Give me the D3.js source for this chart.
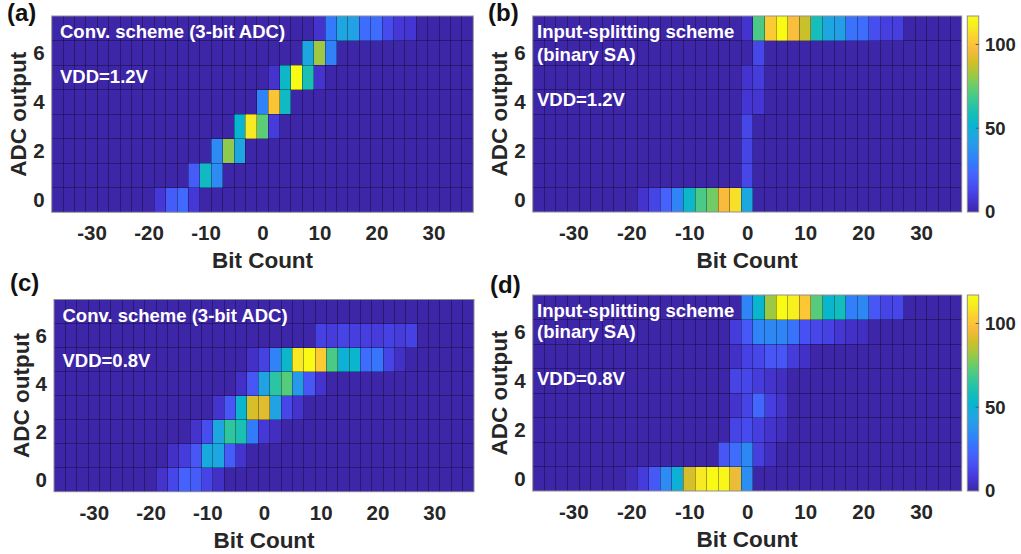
<!DOCTYPE html>
<html>
<head>
<meta charset="utf-8">
<script src="https://cdn.jsdelivr.net/npm/d3@7"></script>
<style>
  html, body { margin: 0; padding: 0; background: #ffffff; }
  svg { display: block; font-family: "Liberation Sans", Arial, Helvetica, sans-serif; font-weight: bold; }
</style>
</head>
<body>
<svg id="fig" width="1021" height="554"></svg>
<script>
// ---- bins and ticks ----
const bitCountBins = [-36, -34, -32, -30, -28, -26, -24, -22, -20, -18, -16, -14, -12, -10, -8, -6, -4, -2,
                      0, 2, 4, 6, 8, 10, 12, 14, 16, 18, 20, 22, 24, 26, 28, 30, 32, 34, 36];
const adcLevels = [0, 1, 2, 3, 4, 5, 6, 7];
const xTickValues = [-30, -20, -10, 0, 10, 20, 30];
const yTickValues = [0, 2, 4, 6];
const colorbarTicks = [0, 50, 100];

// ---- histogram counts: [bit count, ADC output, count]; bins not listed are empty ----
const countsConv12 = [
  [-18, 0, 8], [-16, 0, 20], [-14, 0, 24], [-12, 0, 8],
  [-12, 1, 20], [-10, 1, 56], [-8, 1, 35],
  [-8, 2, 35], [-6, 2, 80], [-4, 2, 45],
  [-4, 3, 52], [-2, 3, 110], [0, 3, 73], [2, 3, 9],
  [0, 4, 32], [2, 4, 100], [4, 4, 56],
  [2, 5, 6], [4, 5, 54], [6, 5, 117], [8, 5, 60], [10, 5, 6],
  [8, 6, 45], [10, 6, 82], [12, 6, 32],
  [10, 7, 6], [12, 7, 30], [14, 7, 45], [16, 7, 43], [18, 7, 25], [20, 7, 25], [22, 7, 14], [24, 7, 8], [26, 7, 7]
];

const countsSplit12 = [
  [-18, 0, 6], [-16, 0, 12], [-14, 0, 22], [-12, 0, 33], [-10, 0, 54], [-8, 0, 70], [-6, 0, 76], [-4, 0, 97], [-2, 0, 108], [0, 0, 46],
  [0, 1, 13], [0, 2, 12], [0, 3, 13],
  [0, 4, 7], [2, 4, 7],
  [0, 5, 6], [2, 5, 9],
  [2, 6, 13],
  [0, 7, 6], [2, 7, 70], [4, 7, 102], [6, 7, 117], [8, 7, 98], [10, 7, 88], [12, 7, 58], [14, 7, 45], [16, 7, 42],
  [18, 7, 27], [20, 7, 25], [22, 7, 15], [24, 7, 10], [26, 7, 10]
];

const countsConv08 = [
  [-18, 0, 6], [-16, 0, 13], [-14, 0, 22], [-12, 0, 20], [-10, 0, 12], [-8, 0, 5],
  [-16, 1, 5], [-14, 1, 9], [-12, 1, 18], [-10, 1, 47], [-8, 1, 45], [-6, 1, 20], [-4, 1, 6],
  [-12, 2, 6], [-10, 2, 15], [-8, 2, 45], [-6, 2, 65], [-4, 2, 60], [-2, 2, 30], [0, 2, 8], [2, 2, 4],
  [-8, 3, 6], [-6, 3, 18], [-4, 3, 53], [-2, 3, 90], [0, 3, 92], [2, 3, 44], [4, 3, 13], [6, 3, 6],
  [-4, 4, 5], [-2, 4, 18], [0, 4, 44], [2, 4, 64], [4, 4, 72], [6, 4, 40], [8, 4, 18], [10, 4, 6],
  [-2, 5, 5], [0, 5, 11], [2, 5, 32], [4, 5, 54], [6, 5, 110], [8, 5, 117], [10, 5, 102], [12, 5, 70], [14, 5, 50],
  [16, 5, 53], [18, 5, 25], [20, 5, 28], [22, 5, 12], [24, 5, 5],
  [10, 6, 11], [12, 6, 9], [14, 6, 12], [16, 6, 10], [18, 6, 10], [20, 6, 9], [22, 6, 11], [24, 6, 9], [26, 6, 11]
];

const countsSplit08 = [
  [-20, 0, 3], [-18, 0, 9], [-16, 0, 19], [-14, 0, 35], [-12, 0, 50], [-10, 0, 90], [-8, 0, 110], [-6, 0, 116], [-4, 0, 115], [-2, 0, 94], [0, 0, 36],
  [-4, 1, 18], [-2, 1, 25], [0, 1, 34], [2, 1, 10], [4, 1, 4],
  [-2, 2, 12], [0, 2, 14], [2, 2, 10], [4, 2, 6], [6, 2, 4],
  [-2, 3, 6], [0, 3, 12], [2, 3, 23], [4, 3, 10], [6, 3, 6],
  [-2, 4, 12], [0, 4, 13], [2, 4, 9], [4, 4, 6], [6, 4, 4],
  [-2, 5, 5], [0, 5, 11], [2, 5, 13], [4, 5, 18], [6, 5, 18], [8, 5, 9], [10, 5, 5],
  [-2, 6, 9], [0, 6, 19], [2, 6, 33], [4, 6, 34], [6, 6, 33], [8, 6, 27], [10, 6, 16], [12, 6, 13], [14, 6, 11], [16, 6, 7], [18, 6, 5], [20, 6, 4],
  [0, 7, 33], [2, 7, 53], [4, 7, 82], [6, 7, 117], [8, 7, 112], [10, 7, 101], [12, 7, 72], [14, 7, 53], [16, 7, 57],
  [18, 7, 31], [20, 7, 34], [22, 7, 18], [24, 7, 12], [26, 7, 13]
];

// ---- parula colormap (subset of the 64-entry table) ----
const parulaIndex = [0, 4, 8, 12, 16, 20, 24, 28, 32, 36, 40, 44, 48, 52, 56, 60, 63];
const parulaRGB = [
  [0.2422, 0.1504, 0.6603], [0.2706, 0.2147, 0.8364], [0.2813, 0.3006, 0.9414], [0.2699, 0.3892, 0.9906],
  [0.1963, 0.4847, 0.9892], [0.1687, 0.5703, 0.9359], [0.1248, 0.6459, 0.8883], [0.0297, 0.7082, 0.8163],
  [0.0964, 0.7500, 0.7120], [0.2161, 0.7843, 0.5923], [0.3909, 0.8029, 0.4354], [0.6174, 0.7876, 0.2612],
  [0.8203, 0.7498, 0.1535], [0.9728, 0.7298, 0.2394], [0.9892, 0.8136, 0.1885], [0.9628, 0.9373, 0.1265],
  [0.9769, 0.9839, 0.0805]
];
const parula = d3.scaleLinear()
  .domain(parulaIndex.map(i => i / 63))
  .range(parulaRGB.map(c => d3.rgb(c[0] * 255, c[1] * 255, c[2] * 255)))
  .interpolate(d3.interpolateRgb)
  .clamp(true);

// ---- panel layout ----
const panels = [
  { letter: "(a)", letterPos: [7, 20.5], counts: countsConv12, box: { x0: 51.7, x1: 473.3, y0: 16, y1: 212.3 }, colorbar: false,
    notes: [["Conv. scheme (3-bit ADC)", 60, 37.5], ["VDD=1.2V", 60, 82.5]] },
  { letter: "(b)", letterPos: [488, 20.5], counts: countsSplit12, box: { x0: 532.7, x1: 961.7, y0: 16, y1: 212 }, colorbar: true,
    notes: [["Input-splitting scheme", 537, 37.5], ["(binary SA)", 537, 60.5], ["VDD=1.2V", 537, 106]] },
  { letter: "(c)", letterPos: [10, 290.5], counts: countsConv08, box: { x0: 54, x1: 474, y0: 299.5, y1: 491.7 }, colorbar: false,
    notes: [["Conv. scheme (3-bit ADC)", 62.5, 321.5], ["VDD=0.8V", 62.5, 367]] },
  { letter: "(d)", letterPos: [490, 293], counts: countsSplit08, box: { x0: 532.7, x1: 961.7, y0: 295, y1: 491 }, colorbar: true,
    notes: [["Input-splitting scheme", 537, 317], ["(binary SA)", 537, 338], ["VDD=0.8V", 537, 384.5]] }
];

const svg = d3.select("#fig");
const textColor = "#262626";

// vertical gradient for the colorbars
const defs = svg.append("defs");
const grad = defs.append("linearGradient").attr("id", "parulaGrad")
  .attr("x1", 0).attr("y1", 1).attr("x2", 0).attr("y2", 0);
d3.range(0, 65).forEach(i => {
  const t = i / 64;
  grad.append("stop").attr("offset", t).attr("stop-color", parula(t));
});

panels.forEach(p => {
  const { x0, x1, y0, y1 } = p.box;
  const x = d3.scaleLinear().domain([-37, 37]).range([x0, x1]);
  const y = d3.scaleLinear().domain([-0.5, 7.5]).range([y1, y0]);
  const cmax = d3.max(p.counts, d => d[2]);
  const lookup = new Map(p.counts.map(d => [d[0] + "," + d[1], d[2]]));

  const cells = [];
  adcLevels.forEach(a => bitCountBins.forEach(b => {
    cells.push({ b, a, v: lookup.get(b + "," + a) || 0 });
  }));

  const g = svg.append("g");

  // tiles
  g.append("g").attr("shape-rendering", "crispEdges")
    .selectAll("rect").data(cells).join("rect")
    .attr("x", d => x(d.b - 1))
    .attr("width", d => x(d.b + 1) - x(d.b - 1))
    .attr("y", d => y(d.a + 0.5))
    .attr("height", d => y(d.a - 0.5) - y(d.a + 0.5))
    .attr("fill", d => parula(d.v / cmax));

  // tile edges
  const edges = g.append("g").attr("shape-rendering", "crispEdges")
    .attr("stroke", "rgba(0,0,0,0.33)").attr("stroke-width", 1);
  edges.selectAll("line.v").data(bitCountBins.slice(1)).join("line").attr("class", "v")
    .attr("x1", d => x(d - 1)).attr("x2", d => x(d - 1)).attr("y1", y0).attr("y2", y1);
  edges.selectAll("line.h").data(adcLevels.slice(1)).join("line").attr("class", "h")
    .attr("y1", d => y(d - 0.5)).attr("y2", d => y(d - 0.5)).attr("x1", x0).attr("x2", x1);

  // axes box
  g.append("rect")
    .attr("x", x0).attr("y", y0).attr("width", x1 - x0).attr("height", y1 - y0)
    .attr("fill", "none").attr("stroke", "#8f8f8f").attr("stroke-width", 1);

  // x axis
  const xAxis = g.append("g").attr("transform", `translate(0,${y1})`)
    .call(d3.axisBottom(x).tickValues(xTickValues).tickSize(0).tickPadding(13.4).tickFormat(d => String(d)));
  xAxis.select(".domain").remove();
  xAxis.selectAll("text").attr("font-size", 20.5).attr("fill", textColor)
    .attr("font-family", "Liberation Sans, Arial, sans-serif").attr("font-weight", "bold");

  // y axis
  const yAxis = g.append("g").attr("transform", `translate(${x0},0)`)
    .call(d3.axisLeft(y).tickValues(yTickValues).tickSize(0).tickPadding(7).tickFormat(d => String(d)));
  yAxis.select(".domain").remove();
  yAxis.selectAll("text").attr("font-size", 20.5).attr("fill", textColor)
    .attr("font-family", "Liberation Sans, Arial, sans-serif").attr("font-weight", "bold");

  // axis titles
  g.append("text")
    .attr("x", (x0 + x1) / 2).attr("y", y1 + 56)
    .attr("text-anchor", "middle").attr("font-size", 22.5).attr("fill", textColor)
    .text("Bit Count");
  g.append("text")
    .attr("transform", `translate(${x0 - 25.5},${(y0 + y1) / 2}) rotate(-90)`)
    .attr("text-anchor", "middle").attr("font-size", 22.5).attr("fill", textColor)
    .text("ADC output");

  // panel letter
  g.append("text")
    .attr("x", p.letterPos[0]).attr("y", p.letterPos[1])
    .attr("font-size", 24).attr("fill", "#111111")
    .text(p.letter);

  // in-plot annotations
  g.append("g").selectAll("text").data(p.notes).join("text")
    .attr("x", d => d[1]).attr("y", d => d[2])
    .attr("font-size", 18.5).attr("fill", "#ffffff")
    .text(d => d[0]);

  // colorbar
  if (p.colorbar) {
    const cbX0 = 967.3, cbX1 = 978.7;
    const cy = d3.scaleLinear().domain([0, cmax]).range([y1, y0]);
    g.append("rect")
      .attr("x", cbX0).attr("y", y0).attr("width", cbX1 - cbX0).attr("height", y1 - y0)
      .attr("fill", "url(#parulaGrad)").attr("stroke", "#8f8f8f").attr("stroke-width", 1);
    const cb = g.append("g").selectAll("g").data(colorbarTicks).join("g");
    cb.filter(d => d > 0).append("line")
      .attr("x1", cbX1 - 3).attr("x2", cbX1).attr("y1", d => cy(d)).attr("y2", d => cy(d))
      .attr("stroke", "#555555").attr("stroke-width", 1);
    cb.append("text")
      .attr("x", cbX1 + 6.3).attr("y", d => cy(d)).attr("dy", "0.35em")
      .attr("font-size", 18.5).attr("fill", textColor)
      .text(d => String(d));
  }
});
</script>
</body>
</html>
